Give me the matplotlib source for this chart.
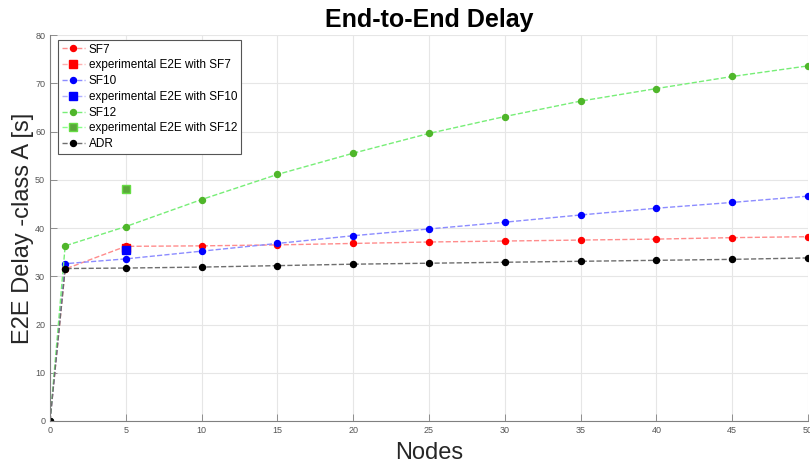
import matplotlib
matplotlib.use("Agg")
import matplotlib.pyplot as plt

plt.rcParams['font.family'] = ['Liberation Sans', 'DejaVu Sans']

nodes = [0, 1, 5, 10, 15, 20, 25, 30, 35, 40, 45, 50]
sf7 = [0, 31.5, 36.2, 36.3, 36.5, 36.8, 37.1, 37.3, 37.5, 37.7, 38.0, 38.2]
sf10 = [0, 32.6, 33.6, 35.2, 36.8, 38.4, 39.8, 41.2, 42.7, 44.1, 45.3, 46.6]
sf12 = [0, 36.3, 40.3, 45.9, 51.1, 55.5, 59.6, 63.1, 66.3, 68.9, 71.4, 73.6]
adr = [0, 31.6, 31.7, 31.9, 32.2, 32.5, 32.7, 32.9, 33.1, 33.3, 33.5, 33.8]

exp_nodes = [5]
exp_sf7 = [35.9]
exp_sf10 = [35.4]
exp_sf12 = [48.0]

labels = ['SF7', 'experimental E2E with SF7', 'SF10', 'experimental E2E with SF10',
          'SF12', 'experimental E2E with SF12', 'ADR']
xticks = list(range(0, 51, 5))
yticks = list(range(0, 81, 10))

fig = plt.figure(figsize=(8.1, 4.68), dpi=100)
ax = fig.add_axes([50/810, 1-421/468, 758/810, 386/468])

mk = dict(marker='o', markersize=4.3, linewidth=1.0, linestyle='--')
sq = dict(marker='s', markersize=5.2, linewidth=1.0, linestyle='--')

ax.plot(nodes, sf7, color='#ff8c8c', markerfacecolor='#ff0000', markeredgecolor='#ff0000', label=labels[0], **mk)
ax.plot(exp_nodes, exp_sf7, color='#ffb0b0', markerfacecolor='#ff0000', markeredgecolor='#ff0000', label=labels[1], **sq)
ax.plot(nodes, sf10, color='#8c8cff', markerfacecolor='#0000ff', markeredgecolor='#0000ff', label=labels[2], **mk)
ax.plot(exp_nodes, exp_sf10, color='#b0b0ff', markerfacecolor='#0000ff', markeredgecolor='#0000ff', label=labels[3], **sq)
ax.plot(nodes, sf12, color='#77ee77', markerfacecolor='#4fb62a', markeredgecolor='#4fb62a', label=labels[4], **mk)
ax.plot(exp_nodes, exp_sf12, color='#88ff88', markerfacecolor='#5aa83a', markeredgecolor='#66dd44', label=labels[5], **sq)
ax.plot(nodes, adr, color='#6e6e6e', markerfacecolor='#000000', markeredgecolor='#000000', label=labels[6], **mk)

ax.set_xlim(0, 50)
ax.set_ylim(0, 80)
ax.set_xticks(xticks)
ax.set_yticks(yticks)
ax.grid(True, color='#e6e6e6', linewidth=0.8)
ax.set_axisbelow(True)
for s in ['top', 'right']:
    ax.spines[s].set_visible(False)
for s in ['left', 'bottom']:
    ax.spines[s].set_color('#808080')
    ax.spines[s].set_linewidth(0.8)
ax.tick_params(direction='in', length=5, width=0.6, colors='#808080', labelsize=6.5, labelcolor='#555555')

ax.set_title('End-to-End Delay', fontsize=18, fontweight='bold', pad=6)
ax.set_xlabel('Nodes', fontsize=17, color='#262626', labelpad=5)
ax.set_ylabel('E2E Delay -class A [s]', fontsize=17, color='#262626', labelpad=1)

leg = ax.legend(loc='upper left', bbox_to_anchor=(8/758, 1-5/386), borderaxespad=0,
                fontsize=8.5, fancybox=False, framealpha=1, edgecolor='#555555',
                labelspacing=0.32, handlelength=2.0, handletextpad=0.3, borderpad=0.3)
leg.get_frame().set_linewidth(0.8)

fig.savefig('out.png', dpi=100)
